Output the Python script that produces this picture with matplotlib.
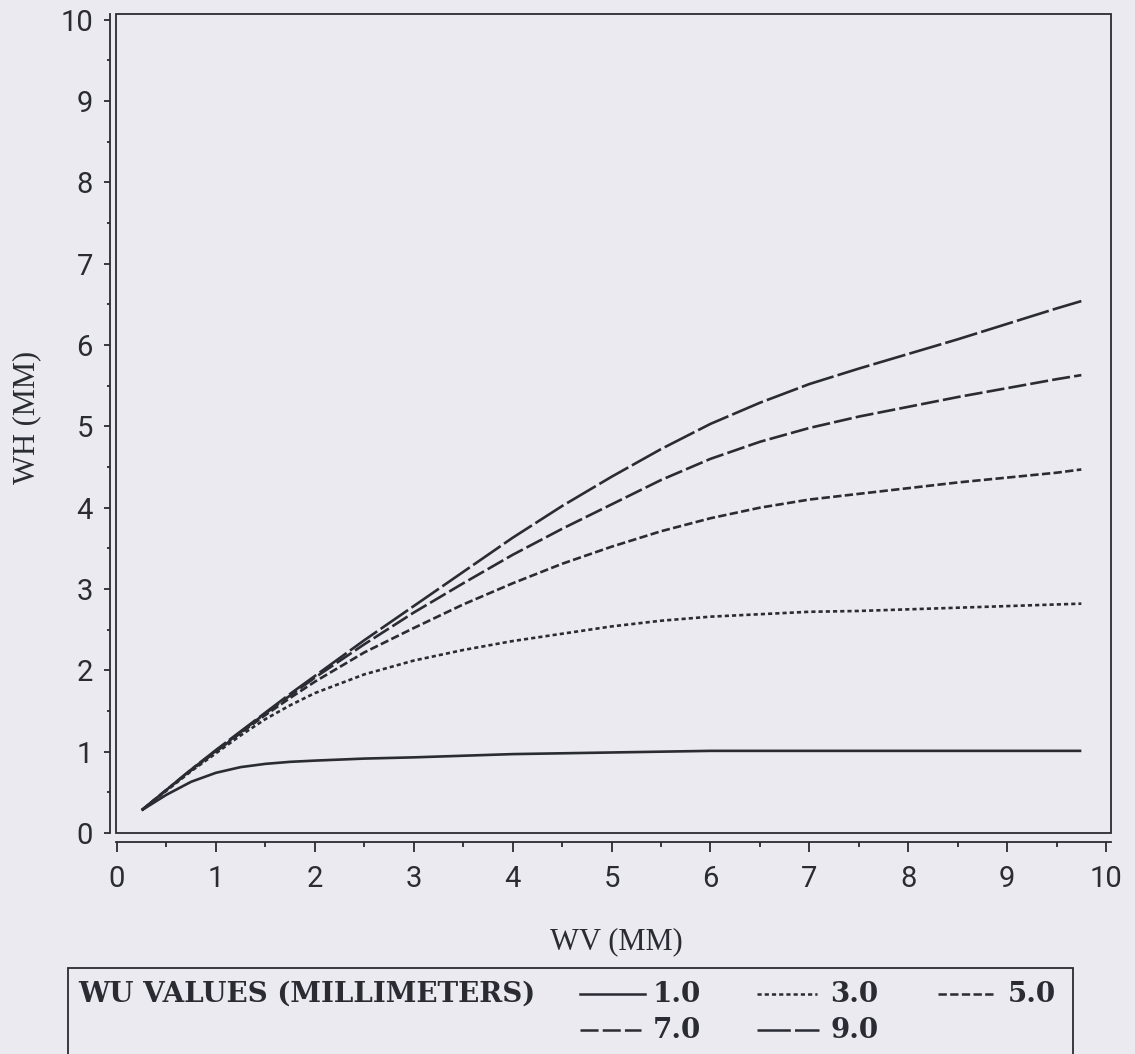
import matplotlib
matplotlib.use("Agg")
import matplotlib.pyplot as plt
from matplotlib.patches import Rectangle
from matplotlib.lines import Line2D
from matplotlib.ticker import MultipleLocator

# ---------------- data ----------------
wv = [0.25, 0.5, 0.75, 1.0, 1.25, 1.5, 1.75, 2.0, 2.5, 3.0, 3.5, 4.0, 4.5, 5.0, 5.5,
      6.0, 6.5, 7.0, 7.5, 8.0, 8.5, 9.0, 9.5, 9.75]
wh_1 = [0.28, 0.47, 0.63, 0.74, 0.81, 0.85, 0.875, 0.89, 0.915, 0.93, 0.95, 0.97, 0.98,
        0.99, 1.00, 1.01, 1.01, 1.01, 1.01, 1.01, 1.01, 1.01, 1.01, 1.01]
wh_3 = [0.28, 0.52, 0.76, 0.98, 1.20, 1.40, 1.57, 1.72, 1.95, 2.12, 2.25, 2.36, 2.45,
        2.54, 2.61, 2.66, 2.69, 2.72, 2.73, 2.75, 2.77, 2.79, 2.81, 2.82]
wh_5 = [0.28, 0.53, 0.77, 1.00, 1.23, 1.45, 1.66, 1.86, 2.22, 2.52, 2.81, 3.07, 3.31,
        3.52, 3.71, 3.87, 4.00, 4.10, 4.17, 4.24, 4.31, 4.37, 4.43, 4.47]
wh_7 = [0.28, 0.53, 0.78, 1.01, 1.24, 1.47, 1.69, 1.91, 2.32, 2.71, 3.07, 3.42, 3.74,
        4.04, 4.34, 4.60, 4.81, 4.98, 5.12, 5.24, 5.36, 5.47, 5.58, 5.63]
wh_9 = [0.28, 0.53, 0.78, 1.02, 1.25, 1.48, 1.71, 1.93, 2.37, 2.79, 3.21, 3.63, 4.02,
        4.38, 4.72, 5.03, 5.29, 5.52, 5.71, 5.89, 6.07, 6.26, 6.45, 6.54]
wu_labels = ["1.0", "3.0", "5.0", "7.0", "9.0"]
x_ticks = [0, 1, 2, 3, 4, 5, 6, 7, 8, 9, 10]
y_ticks = [0, 1, 2, 3, 4, 5, 6, 7, 8, 9, 10]

# ---------------- style ----------------
BG = "#eaeaf0"
INK = "#2b2b33"
plt.rcParams["lines.scale_dashes"] = False
styles = ["-", (0, (3, 2.2)), (0, (6, 2.4)), (0, (13, 3)), (0, (24, 3))]

fig = plt.figure(figsize=(11.35, 10.54), dpi=100, facecolor=BG)
ax = fig.add_axes([116 / 1135, 1 - 833 / 1054, (1111 - 116) / 1135, (833 - 14) / 1054])
ax.set_facecolor(BG)

series = [wh_1, wh_3, wh_5, wh_7, wh_9]
for ys, ls in zip(series, styles):
    ax.plot(wv, ys, color=INK, lw=1.9, linestyle=ls, solid_capstyle="butt",
            dash_capstyle="butt", solid_joinstyle="round")

ax.set_xlim(-0.01, 10.05)
ax.set_ylim(0, 10.07)

# frame (plot area)
ax.add_patch(Rectangle((0, 0), 1, 1, transform=ax.transAxes, fill=False,
                       edgecolor=INK, lw=1.3, clip_on=False, zorder=5))
# offset axis lines
for s in ["top", "right"]:
    ax.spines[s].set_visible(False)
ax.spines["left"].set_position(("outward", 4.3))
ax.spines["bottom"].set_position(("outward", 6.5))
for s in ["left", "bottom"]:
    ax.spines[s].set_color(INK)
    ax.spines[s].set_linewidth(1.3)

ax.set_xticks(x_ticks)
ax.set_yticks(y_ticks)
ax.xaxis.set_minor_locator(MultipleLocator(0.5))
ax.yaxis.set_minor_locator(MultipleLocator(0.5))
tick_font = dict(family=["Roboto", "DejaVu Sans"], weight="normal", size=21)
ax.set_xticklabels([str(t) for t in x_ticks], fontdict=tick_font)
ax.set_yticklabels([str(t) for t in y_ticks], fontdict=tick_font)
ax.tick_params(axis="x", which="major", length=7.2, width=1.3, color=INK,
               pad=9, labelcolor=INK)
ax.tick_params(axis="x", which="minor", length=3.6, width=1.3, color=INK)
ax.tick_params(axis="y", which="major", length=4.3, width=1.3, color=INK,
               pad=8, labelcolor=INK)
ax.tick_params(axis="y", which="minor", length=2.2, width=1.3, color=INK)

serif = ["Liberation Serif", "DejaVu Serif"]
ax.text(0.5025, -0.133, "WV (MM)", transform=ax.transAxes, ha="center",
        va="center", family=serif, size=22, color=INK)
ax.text(-0.0894, 0.508, "WH (MM)", transform=ax.transAxes, ha="center",
        va="center", rotation=90, family=serif, size=22, color=INK)

# ---------------- legend box ----------------
W, H = 1135.0, 1054.0
fig.patches.append(Rectangle((68 / W, -0.05), (1073 - 68) / W, 0.05 + 1 - 968 / H,
                             transform=fig.transFigure, fill=False,
                             edgecolor=INK, lw=1.3))
row_y = [1 - 994 / H, 1 - 1030 / H]
leg_font = dict(family=["DejaVu Serif"], weight="bold", size=20, color=INK)
fig.text(78 / W, row_y[0], "WU VALUES (MILLIMETERS)", ha="left", va="center",
         **leg_font)
entries = [  # (line x0, line x1, text x, row)
    (580, 645, 653, 0),
    (757, 817, 830, 0),
    (938, 995, 1008, 0),
    (580, 641, 653, 1),
    (757, 819, 830, 1),
]
for (x0, x1, tx, r), ls, lab in zip(entries, styles, wu_labels):
    fig.lines.append(Line2D([x0 / W, x1 / W], [row_y[r], row_y[r]],
                            transform=fig.transFigure, color=INK, lw=1.8,
                            linestyle=ls, dash_capstyle="butt"))
    fig.text(tx / W, row_y[r], lab, ha="left", va="center", **leg_font)

fig.savefig("out.png", dpi=100, facecolor=BG)
